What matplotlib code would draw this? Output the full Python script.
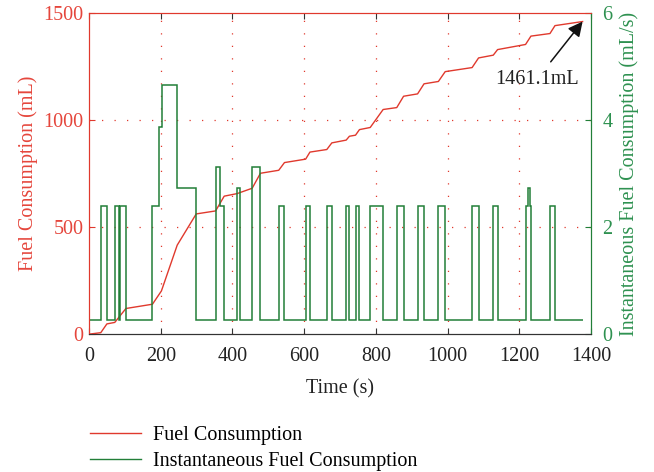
"""
Fuel consumption vs. time, cumulative (left axis) and instantaneous (right axis)
"""

import matplotlib
matplotlib.use('Agg')
import matplotlib.pyplot as plt
from matplotlib.lines import Line2D

# cumulative fuel consumption (mL)
fuel_t = [0, 33, 50, 72, 103, 177, 202, 246, 299, 353, 377, 413, 455, 478, 529,
          545, 604, 616, 663, 677, 717, 726, 743, 754, 784, 820, 858, 877, 916,
          934, 974, 993, 1068, 1086, 1127, 1139, 1217, 1232, 1285, 1299, 1376]
fuel_v = [0, 7, 48, 55, 120, 140, 202, 416, 562, 576, 645, 657, 682, 752, 766,
          802, 818, 851, 863, 894, 907, 925, 930, 956, 966, 1050, 1059, 1112, 1123,
          1170, 1181, 1227, 1246, 1291, 1304, 1330, 1354, 1393, 1405, 1442, 1461.1]

# instantaneous fuel consumption (mL/s), piecewise constant
rate_edges = [0, 33, 49, 72, 83, 87, 103, 177, 194, 200, 203, 246, 299, 353,
              365, 377, 413, 420, 455, 478, 529, 545, 604, 616, 663, 677, 716,
              726, 743, 754, 784, 820, 858, 877, 916, 934, 974, 993, 1068, 1086,
              1127, 1139, 1217, 1223, 1228, 1232, 1285, 1299, 1376]
rate_vals = [0.26, 2.39, 0.26, 2.39, 0.26, 2.39, 0.26, 2.39, 3.87, 3.87, 4.65,
             2.74, 0.26, 3.13, 2.39, 0.26, 2.74, 0.26, 3.13, 0.26, 2.39, 0.26, 2.39,
             0.26, 2.39, 0.26, 2.39, 0.26, 2.39, 0.26, 2.39, 0.26, 2.39, 0.26, 2.39,
             0.26, 2.39, 0.26, 2.39, 0.26, 2.39, 0.26, 2.39, 2.74, 2.39, 0.26, 2.39,
             0.26]

x_ticks = [0, 200, 400, 600, 800, 1000, 1200, 1400]
left_ticks = [0, 500, 1000, 1500]
right_ticks = [0, 2, 4, 6]

RED = '#E0392D'
GREEN = '#227F38'
GREEN_TXT = '#2E9150'
RED_TXT = '#E5463C'

plt.rcParams['font.family'] = ['Liberation Serif', 'DejaVu Serif']
plt.rcParams['font.size'] = 14.5

fig = plt.figure(figsize=(6.54, 4.72), dpi=100)
ax = fig.add_axes([0.136, 0.292, 0.768, 0.68])
ax2 = ax.twinx()

ax.plot(fuel_t, fuel_v, color=RED, lw=1.0, zorder=3)
ax2.stairs(rate_vals, rate_edges, baseline=None, color=GREEN, lw=1.1)

ax.set_xlim(0, 1400)
ax.set_ylim(0, 1500)
ax2.set_ylim(0, 6)
ax.set_xticks(x_ticks)
ax.set_yticks(left_ticks)
ax2.set_yticks(right_ticks)

# dotted grid
for x in x_ticks[1:-1]:
    ax.axvline(x, color=RED, lw=0.9, dashes=(1, 9), zorder=1)
for y in left_ticks[1:-1]:
    ax.axhline(y, color=RED, lw=0.9, dashes=(1, 9), zorder=1)

ax.tick_params(axis='x', direction='in', top=True, length=4, color='#333333',
               labelcolor='#222222', pad=9)
ax.tick_params(axis='y', direction='in', length=4, color=RED, labelcolor=RED_TXT, pad=4)
ax2.tick_params(axis='y', direction='in', length=4, color=GREEN, labelcolor=GREEN_TXT,
                pad=8)

for a in (ax, ax2):
    a.spines['top'].set_color(RED)
    a.spines['left'].set_color(RED)
    a.spines['right'].set_color(GREEN)
    a.spines['bottom'].set_color('#333333')

ax.set_xlabel('Time (s)', color='#222222', labelpad=10)
ax.set_ylabel('Fuel Consumption (mL)', color=RED_TXT, labelpad=4)
ax2.set_ylabel('Instantaneous Fuel Consumption (mL/s)', color=GREEN_TXT, labelpad=5)

ax.annotate('1461.1mL', xy=(fuel_t[-1], fuel_v[-1]), xytext=(1248, 1190),
            ha='center', va='center', color='#222222',
            arrowprops=dict(arrowstyle='-|>', color='#111111', lw=1.1,
                            mutation_scale=22, shrinkA=5, shrinkB=0))

handles = [Line2D([], [], color=RED, lw=1.0),
           Line2D([], [], color=GREEN, lw=1.0)]
fig.legend(handles, ['Fuel Consumption', 'Instantaneous Fuel Consumption'],
           loc='upper left', bbox_to_anchor=(0.138, 0.098), frameon=False,
           borderpad=0, borderaxespad=0,
           handlelength=2.5, handletextpad=0.6, labelspacing=0.35)

fig.savefig('out.png', dpi=100, facecolor='white')
